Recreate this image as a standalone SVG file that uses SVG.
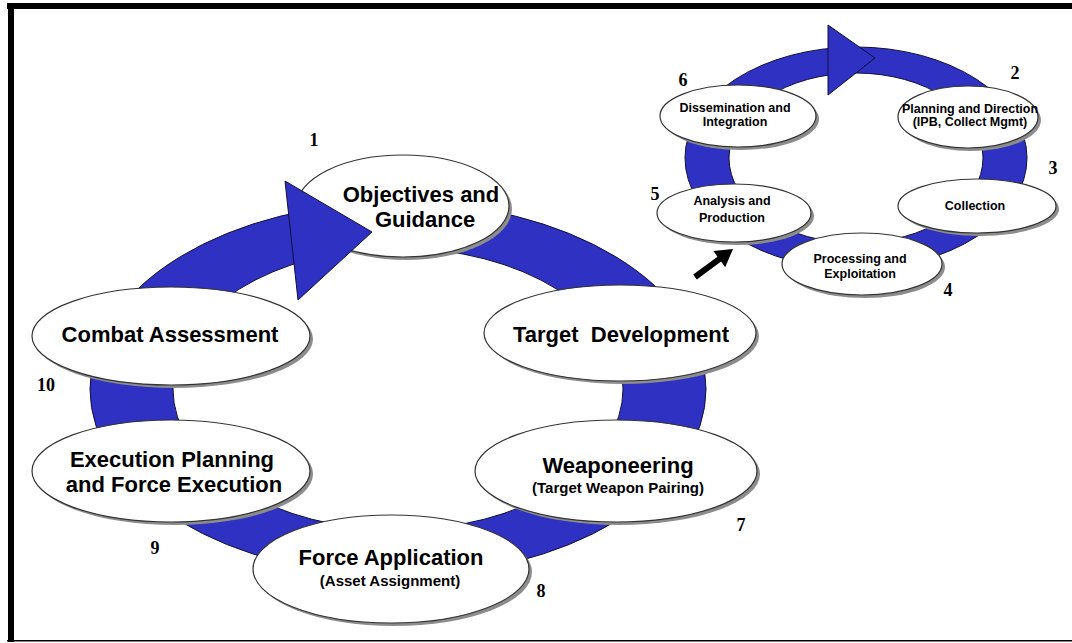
<svg xmlns="http://www.w3.org/2000/svg" width="1072" height="643" viewBox="0 0 1072 643">
<defs>
<style>
.band{fill:#2E31C2;stroke:#10103a;stroke-width:1;fill-rule:evenodd}
.node ellipse.sh{fill:#8c8c8c;stroke:none}
.node ellipse.fg{fill:#ffffff;stroke:#333;stroke-width:1.2}
.t{font-family:"Liberation Sans",Arial,sans-serif;font-weight:bold;fill:#000;text-anchor:middle}
.big{font-size:22px}
.sub{font-size:15px}
.sm{font-size:12.5px}
.num{font-family:"Liberation Serif","Times New Roman",serif;font-weight:bold;font-size:18px;fill:#000;text-anchor:middle}
</style>
</defs>
<rect x="0" y="0" width="1072" height="643" fill="#fff"/>
<g id="frame">
<rect x="7" y="3" width="1065" height="6" fill="#000"/>
<rect x="8" y="3" width="6" height="639" fill="#000"/>
<rect x="7" y="640" width="1065" height="1.5" fill="#000"/>
</g>
<g id="connectors">
<path class="band" d="M90,389 a308,187 0 1,0 616,0 a308,187 0 1,0 -616,0 Z M173,389 a225,141 0 1,0 450,0 a225,141 0 1,0 -450,0 Z"/>
<path class="band" d="M685,158 a171,111 0 1,0 342,0 a171,111 0 1,0 -342,0 Z M729,158 a127,85 0 1,0 254,0 a127,85 0 1,0 -254,0 Z"/>
<polygon fill="#000" points="693.2,274.6 717.5,256.7 713.4,251.1 733,249 725.2,267.2 721.1,261.5 696.8,279.4"/>
</g>
<g id="objectives" class="node">
<ellipse class="sh" cx="406" cy="209" rx="106" ry="51"/>
<ellipse class="fg" cx="403" cy="206" rx="106" ry="51"/>
</g>
<g id="target-development" class="node">
<ellipse class="sh" cx="623" cy="336" rx="136" ry="48"/>
<ellipse class="fg" cx="620" cy="333" rx="136" ry="48"/>
<text class="t big" x="621" y="342" xml:space="preserve">Target  Development</text>
</g>
<g id="weaponeering" class="node">
<ellipse class="sh" cx="619" cy="474" rx="141" ry="51"/>
<ellipse class="fg" cx="616" cy="471" rx="141" ry="51"/>
<text class="t big" x="618" y="473">Weaponeering</text>
<text class="t sub" x="618" y="493">(Target Weapon Pairing)</text>
</g>
<g id="force-application" class="node">
<ellipse class="sh" cx="394" cy="572" rx="138" ry="54"/>
<ellipse class="fg" cx="391" cy="569" rx="138" ry="54"/>
<text class="t big" x="391" y="565">Force Application</text>
<text class="t sub" x="390" y="586">(Asset Assignment)</text>
</g>
<g id="execution-planning" class="node">
<ellipse class="sh" cx="174" cy="474" rx="139" ry="51"/>
<ellipse class="fg" cx="171" cy="471" rx="139" ry="51"/>
<text class="t big" x="172" y="467">Execution Planning</text>
<text class="t big" x="174" y="492">and Force Execution</text>
</g>
<g id="combat-assessment" class="node">
<ellipse class="sh" cx="174" cy="339" rx="139" ry="49"/>
<ellipse class="fg" cx="171" cy="336" rx="139" ry="49"/>
<text class="t big" x="170" y="342">Combat Assessment</text>
</g>
<g id="big-arrowhead">
<polygon class="band" points="285,181 372,232 298,300"/>
</g>
<g id="objectives-label">
<text class="t big" x="421" y="202">Objectives and</text>
<text class="t big" x="425" y="227">Guidance</text>
</g>
<g id="dissemination" class="node">
<ellipse class="sh" cx="741" cy="119" rx="78" ry="31"/>
<ellipse class="fg" cx="738" cy="116" rx="78" ry="31"/>
<text class="t sm" x="735" y="112">Dissemination and</text>
<text class="t sm" x="735" y="126">Integration</text>
</g>
<g id="planning" class="node">
<ellipse class="sh" cx="971" cy="120" rx="70" ry="31"/>
<ellipse class="fg" cx="968" cy="117" rx="70" ry="31"/>
<text class="t sm" x="970" y="113">Planning and Direction</text>
<text class="t sm" x="970" y="126">(IPB, Collect Mgmt)</text>
</g>
<g id="collection" class="node">
<ellipse class="sh" cx="980" cy="209" rx="79" ry="27"/>
<ellipse class="fg" cx="977" cy="206" rx="79" ry="27"/>
<text class="t sm" x="975" y="210">Collection</text>
</g>
<g id="analysis" class="node">
<ellipse class="sh" cx="737" cy="216" rx="77" ry="29"/>
<ellipse class="fg" cx="734" cy="213" rx="77" ry="29"/>
<text class="t sm" x="732" y="205">Analysis and</text>
<text class="t sm" x="732" y="222">Production</text>
</g>
<g id="processing" class="node">
<ellipse class="sh" cx="865" cy="267" rx="80" ry="31"/>
<ellipse class="fg" cx="862" cy="264" rx="80" ry="31"/>
<text class="t sm" x="860" y="263">Processing and</text>
<text class="t sm" x="860" y="278">Exploitation</text>
</g>
<g id="small-arrowhead">
<polygon class="band" points="828,25 875,58 828,95"/>
</g>
<g id="numbers">
<text class="num" x="314" y="146">1</text>
<text class="num" x="1015" y="79">2</text>
<text class="num" x="1053" y="174">3</text>
<text class="num" x="948" y="296">4</text>
<text class="num" x="655" y="200">5</text>
<text class="num" x="683" y="86">6</text>
<text class="num" x="741" y="531">7</text>
<text class="num" x="541" y="597">8</text>
<text class="num" x="155" y="554">9</text>
<text class="num" x="46" y="391">10</text>
</g>
</svg>
